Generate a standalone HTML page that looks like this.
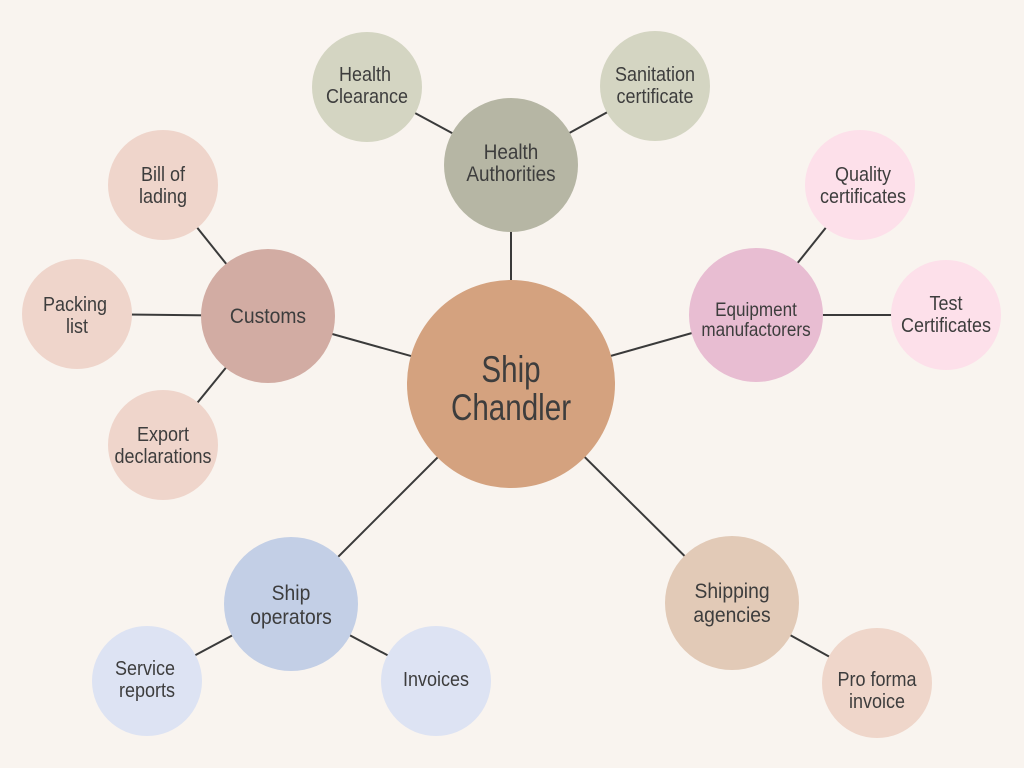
<!DOCTYPE html>
<html><head><meta charset="utf-8"><style>
html,body{margin:0;padding:0;background:#f9f4ef;}
svg{display:block}
text{font-family:"Liberation Sans",sans-serif;fill:#3d3d3d;text-anchor:middle}
</style></head><body>
<svg width="1024" height="768" viewBox="0 0 1024 768">
<rect width="1024" height="768" fill="#f9f4ef"/>
<g stroke="#3a3a3a" stroke-width="2">
<line x1="511" y1="384" x2="511" y2="165"/>
<line x1="511" y1="165" x2="367" y2="87"/>
<line x1="511" y1="165" x2="655" y2="86"/>
<line x1="511" y1="384" x2="268" y2="316"/>
<line x1="268" y1="316" x2="163" y2="185"/>
<line x1="268" y1="316" x2="77" y2="314"/>
<line x1="268" y1="316" x2="163" y2="445"/>
<line x1="511" y1="384" x2="756" y2="315"/>
<line x1="756" y1="315" x2="860" y2="185"/>
<line x1="756" y1="315" x2="946" y2="315"/>
<line x1="511" y1="384" x2="291" y2="604"/>
<line x1="291" y1="604" x2="147" y2="681"/>
<line x1="291" y1="604" x2="436" y2="681"/>
<line x1="511" y1="384" x2="732" y2="603"/>
<line x1="732" y1="603" x2="877" y2="683"/>
</g>
<circle cx="511" cy="384" r="104" fill="#d4a27f"/>
<circle cx="511" cy="165" r="67" fill="#b6b6a4"/>
<circle cx="367" cy="87" r="55" fill="#d4d5c2"/>
<circle cx="655" cy="86" r="55" fill="#d4d5c2"/>
<circle cx="268" cy="316" r="67" fill="#d2aca3"/>
<circle cx="163" cy="185" r="55" fill="#efd5cb"/>
<circle cx="77" cy="314" r="55" fill="#efd5cb"/>
<circle cx="163" cy="445" r="55" fill="#efd5cb"/>
<circle cx="756" cy="315" r="67" fill="#e8bdd2"/>
<circle cx="860" cy="185" r="55" fill="#fde0ea"/>
<circle cx="946" cy="315" r="55" fill="#fde0ea"/>
<circle cx="291" cy="604" r="67" fill="#c3cfe6"/>
<circle cx="147" cy="681" r="55" fill="#dde3f3"/>
<circle cx="436" cy="681" r="55" fill="#dde3f3"/>
<circle cx="732" cy="603" r="67" fill="#e2cab7"/>
<circle cx="877" cy="683" r="55" fill="#efd6ca"/>
<g font-size="37">
<text transform="translate(511,382) scale(0.8,1)">Ship</text>
<text transform="translate(511,420) scale(0.8,1)">Chandler</text>
</g>
<g font-size="21">
<text transform="translate(511,159) scale(0.9,1)">Health</text><text transform="translate(511,181) scale(0.9,1)">Authorities</text>
<text transform="translate(268,323) scale(0.92,1)">Customs</text>
<text transform="translate(756,316) scale(0.9,1)" font-size="19">Equipment</text><text transform="translate(756,336) scale(0.9,1)" font-size="19">manufactorers</text>
<text transform="translate(291,600) scale(0.92,1)">Ship</text><text transform="translate(291,624) scale(0.92,1)">operators</text>
<text transform="translate(732,598) scale(0.92,1)">Shipping</text><text transform="translate(732,622) scale(0.92,1)">agencies</text>
</g>
<g font-size="20">
<text transform="translate(365,81) scale(0.9,1)">Health</text><text transform="translate(367,103) scale(0.9,1)">Clearance</text>
<text transform="translate(655,81) scale(0.9,1)">Sanitation</text><text transform="translate(655,103) scale(0.9,1)">certificate</text>
<text transform="translate(163,181) scale(0.9,1)">Bill of</text><text transform="translate(163,203) scale(0.9,1)">lading</text>
<text transform="translate(75,311) scale(0.9,1)">Packing</text><text transform="translate(77,333) scale(0.9,1)">list</text>
<text transform="translate(163,441) scale(0.9,1)">Export</text><text transform="translate(163,463) scale(0.9,1)">declarations</text>
<text transform="translate(863,181) scale(0.9,1)">Quality</text><text transform="translate(863,203) scale(0.9,1)">certificates</text>
<text transform="translate(946,310) scale(0.9,1)">Test</text><text transform="translate(946,332) scale(0.9,1)">Certificates</text>
<text transform="translate(145,675) scale(0.9,1)">Service</text><text transform="translate(147,697) scale(0.9,1)">reports</text>
<text transform="translate(436,686) scale(0.9,1)">Invoices</text>
<text transform="translate(877,686) scale(0.9,1)">Pro forma</text><text transform="translate(877,708) scale(0.9,1)">invoice</text>
</g>
</svg>
</body></html>
